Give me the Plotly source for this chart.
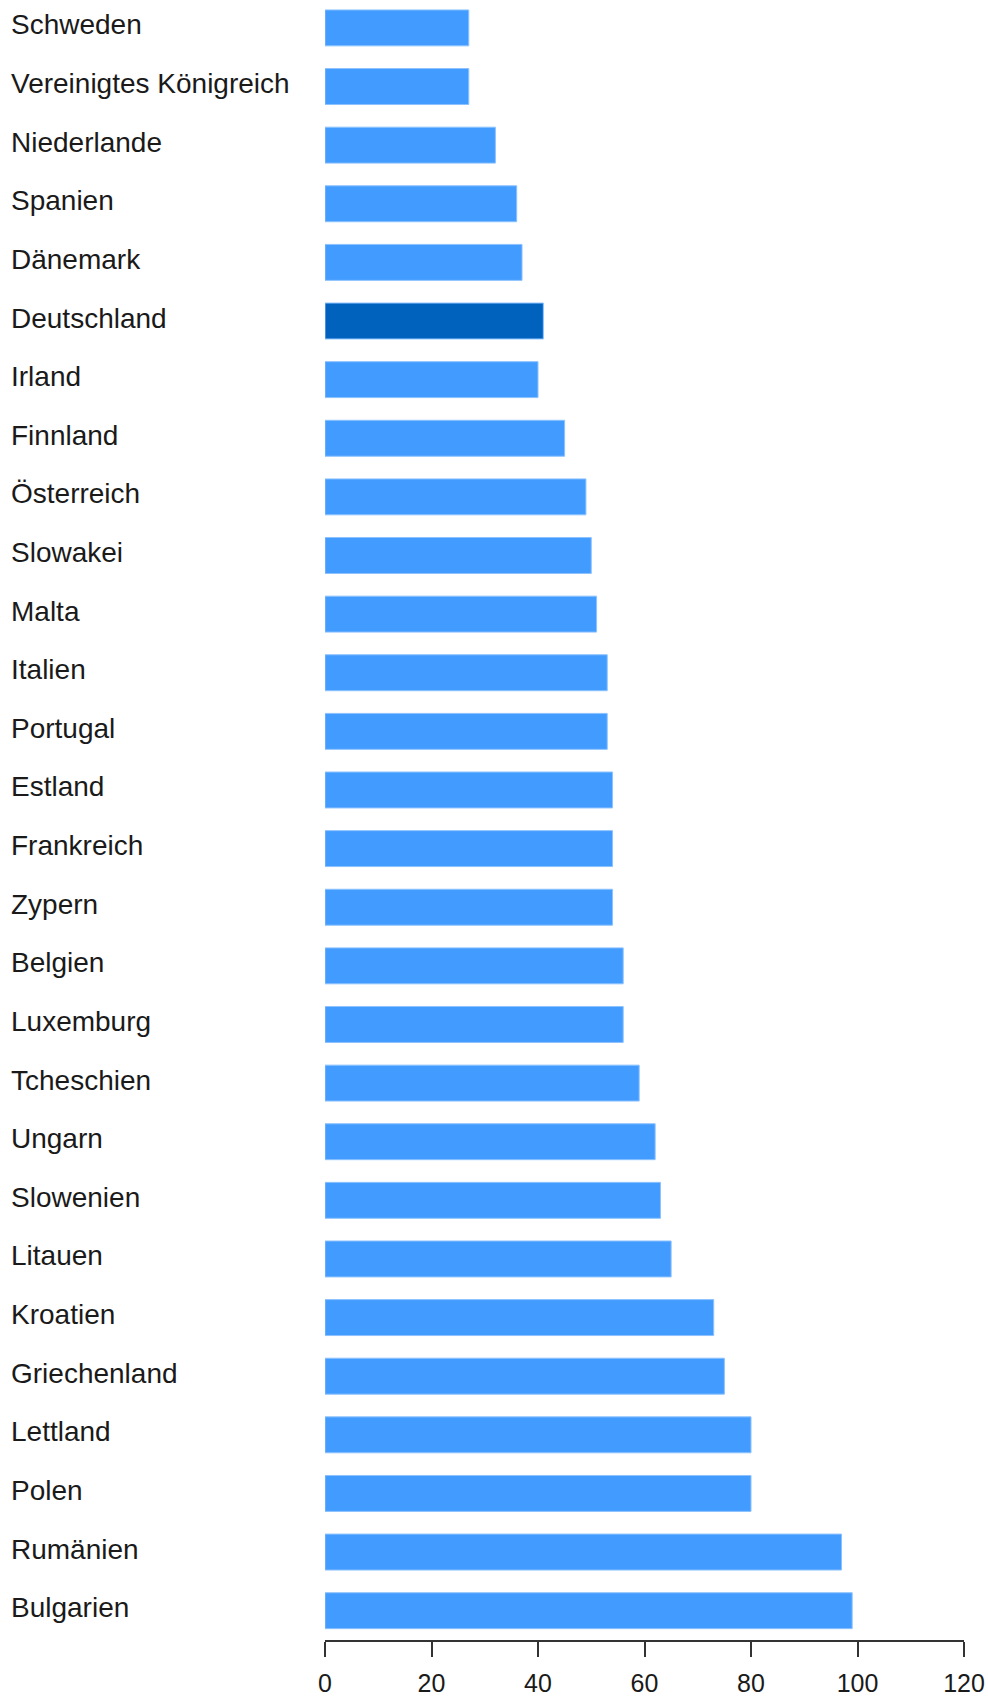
import plotly.graph_objects as go

countries = [
    "Schweden", "Vereinigtes Königreich", "Niederlande", "Spanien", "Dänemark",
    "Deutschland", "Irland", "Finnland", "Österreich", "Slowakei", "Malta",
    "Italien", "Portugal", "Estland", "Frankreich", "Zypern", "Belgien",
    "Luxemburg", "Tcheschien", "Ungarn", "Slowenien", "Litauen", "Kroatien",
    "Griechenland", "Lettland", "Polen", "Rumänien", "Bulgarien",
]
values = [
    27, 27, 32, 36, 37,
    41, 40, 45, 49, 50, 51,
    53, 53, 54, 54, 54, 56,
    56, 59, 62, 63, 65, 73,
    75, 80, 80, 97, 99,
]
highlight = "Deutschland"
x_ticks = [0, 20, 40, 60, 80, 100, 120]

LIGHT = "#429BFF"
DARK = "#0062BD"
colors = [DARK if c == highlight else LIGHT for c in countries]

fig = go.Figure()
fig.add_trace(go.Bar(
    x=values,
    y=countries,
    orientation="h",
    marker=dict(color=colors, line=dict(color="#8CC2FF", width=1)),
    hoverinfo="x+y",
))

W, H = 988, 1697
L, R, T, B = 325, 24, 0, 45
plot_w = W - L - R

n = len(countries)
annotations = []
for c in countries:
    annotations.append(dict(
        x=(9 - L) / plot_w, xref="paper", xanchor="left",
        y=c, yref="y", yanchor="middle", yshift=3,
        text=c, showarrow=False,
        font=dict(family="Liberation Sans, Arial, sans-serif", size=28, color="#1a1a1a"),
    ))

fig.update_layout(
    width=W, height=H,
    margin=dict(l=L, r=R, t=T, b=B, pad=0),
    plot_bgcolor="white", paper_bgcolor="white",
    bargap=0.387,
    showlegend=False,
    annotations=annotations,
    xaxis=dict(
        range=[0, 120], tickvals=x_ticks, ticktext=[str(v) for v in x_ticks],
        showgrid=False, zeroline=False,
        showline=True, linecolor="#333333", linewidth=2,
        ticks="outside", ticklen=15, tickwidth=2, tickcolor="#333333",
        ticklabelstandoff=5,
        tickfont=dict(family="Liberation Sans, Arial, sans-serif", size=25, color="#1a1a1a"),
        fixedrange=True,
    ),
    yaxis=dict(
        categoryorder="array", categoryarray=countries,
        range=[n - 1 + 0.50, -0.476],
        showticklabels=False, showgrid=False, zeroline=False, showline=False,
        ticks="", fixedrange=True,
    ),
)

fig.write_html(
    "out.html",
    config={"displayModeBar": False},
    post_script="document.body.style.margin='0';document.body.style.overflow='hidden';",
)
